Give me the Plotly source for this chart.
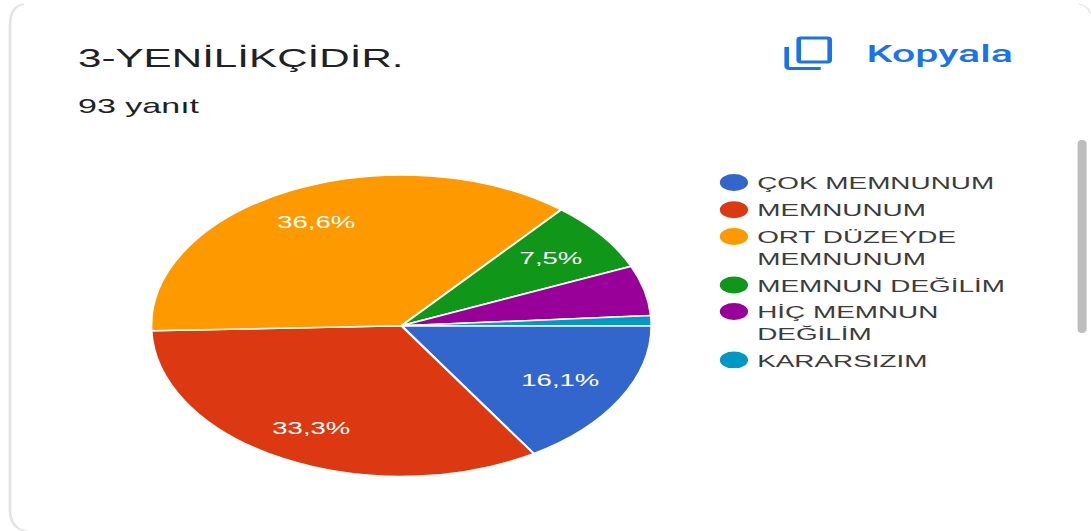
import plotly.graph_objects as go

# Data
categories = ["ÇOK MEMNUNUM", "MEMNUNUM", "ORT DÜZEYDE<br>MEMNUNUM", "MEMNUN DEĞİLİM",
              "HİÇ MEMNUN<br>DEĞİLİM", "KARARSIZIM"]
responses = [15, 31, 34, 7, 5, 1]
slice_colors = ["#3366cc", "#dc3912", "#ff9900", "#109618", "#990099", "#0099c6"]

title_text = "3-YENİLİKÇİDİR."
subtitle_text = "93 yanıt"
copy_text = "Kopyala"

W, H = 1091, 531
STRETCH = 1.66            # the reference is a horizontally stretched screenshot
FONT = "Liberation Sans"


def X(px):
    return px / W


def Y(py):
    return 1 - py / H


def pct(v):
    return f"{v / sum(responses) * 100:.1f}".replace(".", ",") + "%"


# where each visible percentage label sits in the picture (slice index, x, y)
label_spots = [(0, 561, 380), (1, 311, 428), (2, 316, 223), (3, 551, 258)]

fig = go.Figure(go.Pie(
    labels=categories,
    values=responses,
    sort=False,
    direction="clockwise",
    rotation=90,
    marker=dict(colors=slice_colors, line=dict(color="white", width=1.5)),
    textinfo="none",
    hoverinfo="label+percent",
    domain=dict(x=[X(151), X(652)], y=[Y(476.5), Y(175)]),
))

ICON = dict(color="#1a73e8", width=2.8)
shapes = [
    # card outline: left edge with its rounded corners
    dict(type="path", xref="paper", yref="paper",
         path=f"M{X(24)},{Y(4)} Q{X(10)},{Y(6)} {X(10)},{Y(26)} "
              f"L{X(10)},{Y(510)} Q{X(10)},{Y(530)} {X(30)},{Y(532)}",
         line=dict(color="#e3e3e3", width=1.6)),
    # card outline: top right corner
    dict(type="path", xref="paper", yref="paper",
         path=f"M{X(1079)},{Y(4)} Q{X(1088)},{Y(5)} {X(1091)},{Y(14)}",
         line=dict(color="#e8e8e8", width=1.2)),
    # scrollbar
    dict(type="path", xref="paper", yref="paper", fillcolor="#bdbdbd", line=dict(width=0),
         path=f"M{X(1078)},{Y(144)} Q{X(1078)},{Y(140)} {X(1082)},{Y(140)} "
              f"Q{X(1087)},{Y(140)} {X(1087)},{Y(144)} L{X(1087)},{Y(329)} "
              f"Q{X(1087)},{Y(333)} {X(1082)},{Y(333)} Q{X(1078)},{Y(333)} {X(1078)},{Y(329)} Z"),
    # copy icon: front square
    dict(type="path", xref="paper", yref="paper", line=ICON,
         path=f"M{X(801)},{Y(38)} L{X(828)},{Y(38)} Q{X(830)},{Y(38)} {X(830)},{Y(40)} "
              f"L{X(830)},{Y(60)} Q{X(830)},{Y(62)} {X(828)},{Y(62)} L{X(801)},{Y(62)} "
              f"Q{X(799)},{Y(62)} {X(799)},{Y(60)} L{X(799)},{Y(40)} Q{X(799)},{Y(38)} {X(801)},{Y(38)} Z"),
    # copy icon: back corner
    dict(type="path", xref="paper", yref="paper", line=ICON,
         path=f"M{X(787)},{Y(47)} L{X(787)},{Y(66)} Q{X(787)},{Y(68.5)} {X(790)},{Y(68.5)} L{X(821)},{Y(68.5)}"),
]

annotations = [
    dict(text=title_text, x=X(74), y=Y(58), xref="paper", yref="paper", xanchor="left", yanchor="middle",
         showarrow=False, font=dict(family=FONT, size=25.4, color="#202124")),
    dict(text=subtitle_text, x=X(74), y=Y(105), xref="paper", yref="paper", xanchor="left", yanchor="middle",
         showarrow=False, font=dict(family=FONT, size=20.5, color="#202124")),
    dict(text=copy_text, x=X(863), y=Y(53), xref="paper", yref="paper", xanchor="left", yanchor="middle",
         showarrow=False, font=dict(family="Roboto", size=24.8, color="#1a73e8", weight=500)),
]
for i, px, py in label_spots:
    annotations.append(dict(text=pct(responses[i]), x=X(px), y=Y(py), xref="paper", yref="paper",
                            xanchor="center", yanchor="middle", showarrow=False,
                            font=dict(family=FONT, size=16.6, color="white")))

fig.update_layout(
    width=round(W / STRETCH), height=H,
    margin=dict(l=0, r=0, t=0, b=0),
    paper_bgcolor="white",
    shapes=shapes,
    annotations=annotations,
    showlegend=True,
    legend=dict(x=X(691), y=Y(165), xanchor="left", yanchor="top",
                font=dict(family=FONT, size=16.8, color="#3c3c3c"),
                itemwidth=30, itemclick=False, itemdoubleclick=False,
                bgcolor="rgba(0,0,0,0)"),
)

post_script = f"""
document.documentElement.style.overflow = 'hidden';
document.body.style.margin = '0';
var gd = document.getElementById('{{plot_id}}');
gd.style.transformOrigin = '0 0';
gd.style.transform = 'scaleX({STRETCH})';
var twoLine = [2, 4];
gd.querySelectorAll('.legend .traces').forEach(function (row, i) {{
  var m = /translate\\(([^,]+),\\s*([^)]+)\\)/.exec(row.getAttribute('transform'));
  if (m) row.setAttribute('transform', 'translate(' + m[1] + ',' + (parseFloat(m[2]) + (i ? 0.8 : 0) + 1.8 * i) + ')');
  var cy = twoLine.indexOf(i) >= 0 ? -11 : 0;
  row.querySelectorAll('.legendpoints path').forEach(function (p) {{
    p.setAttribute('d', 'M14.5,' + cy + 'A8.5,8.5 0 1,1 -2.5,' + cy + 'A8.5,8.5 0 1,1 14.5,' + cy + 'Z');
    p.style.strokeWidth = '0';
  }});
}});
"""

fig.write_html("out.html", post_script=post_script, config=dict(displayModeBar=False))
